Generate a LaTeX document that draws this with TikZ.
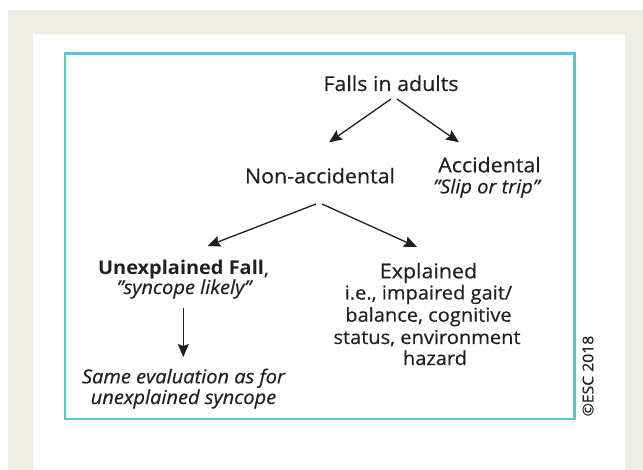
\documentclass[tikz,border=0pt]{standalone}
\usepackage{fontspec}
\setmainfont{Open Sans}[FakeStretch=1.05,UprightFeatures={FakeBold=0.35},ItalicFeatures={FakeBold=0.35}]
\usetikzlibrary{arrows.meta,calc}
\definecolor{beige}{RGB}{238,237,226}
\definecolor{teal}{RGB}{90,200,200}
\definecolor{ink}{RGB}{35,31,32}
\newcommand{\dq}{\symbol{34}}
\tikzset{
  lab/.style={anchor=base,inner sep=0pt,text=ink,font=\fontsize{20.4}{24}\selectfont},
  sub/.style={anchor=base,inner sep=0pt,text=ink,font=\fontsize{19.1}{22}\selectfont},
  ital/.style={anchor=base,inner sep=0pt,text=ink,font=\fontsize{19.1}{22}\selectfont\itshape},
  arr/.style={draw=ink,line width=1.3pt,-{Stealth[length=13pt,width=11pt,inset=2pt]}}
}
\begin{document}
\begin{tikzpicture}[x=1pt,y=-1pt]
\useasboundingbox (0,0) rectangle (643,470);
\fill[white] (0,0) rectangle (643,470);
\fill[beige] (8,10) rectangle (643,470);
\fill[white] (33,34) rectangle (625,470);
\draw[teal,line width=2.4pt] (65,53.5) rectangle (574.5,419);
\node[lab] (falls) at (391,91) {Falls in adults};
\node[lab] (nonacc) at (320,183.3) {Non-accidental};
\node[lab] (acc) at (489.5,172.3) {Accidental};
\node[ital] (slip) at (486.5,193.3) {\dq Slip or trip\dq};
\node[lab,font=\fontsize{19}{22}\selectfont] (unexp) at (183.5,275) {\textbf{Unexplained Fall},};
\node[ital] (syn) at (184,294) {\dq syncope likely\dq};
\node[ital] (same) at (183.5,383.3) {Same evaluation as for};
\node[ital] (uns) at (183.5,404) {unexplained syncope};
\node[lab] (expl) at (428.5,278.3) {Explained};
\node[sub] (e1) at (428.5,299.5) {i.e., impaired gait/};
\node[sub] (e2) at (428.5,321.7) {balance, cognitive};
\node[sub] (e3) at (427,344) {status, environment};
\node[sub] (e4) at (435,365) {hazard};
\node[inner sep=0pt,text=ink,font=\fontsize{15}{17}\selectfont,rotate=90] (copy) at (588,376) {©ESC 2018};
\draw[arr] ($(falls.base)+(0,8)$) -- ($(nonacc.base)+(9,-41)$);
\draw[arr] ($(falls.base)+(6,8)$) -- ($(acc.base)+(-30.5,-30)$);
\draw[arr] ($(nonacc.base)+(-4,20.7)$) -- ($(unexp.base)+(24,-29)$);
\draw[arr] ($(nonacc.base)+(2,20.7)$) -- ($(expl.base)+(-11.5,-31.3)$);
\draw[arr] ($(syn.base)+(-0.7,14)$) -- ($(same.base)+(-0.2,-26.3)$);
\end{tikzpicture}
\end{document}
